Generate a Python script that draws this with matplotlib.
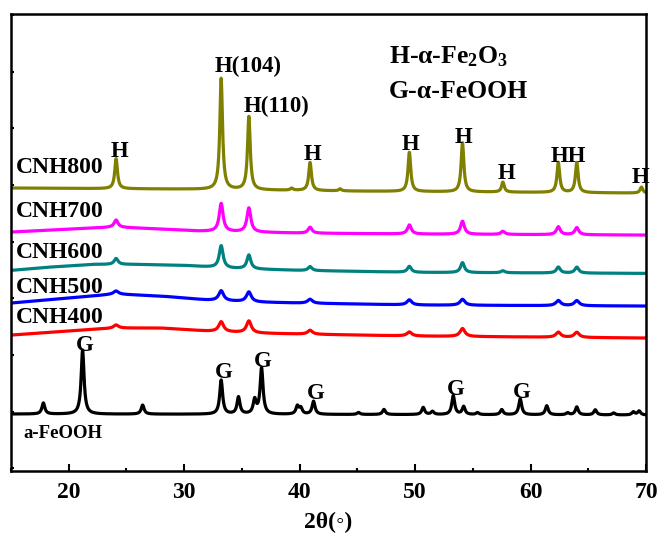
import numpy as np
import matplotlib
matplotlib.use('Agg')
import matplotlib.pyplot as plt
from matplotlib.ticker import MultipleLocator

plt.rcParams['font.family'] = ['Liberation Serif', 'DejaVu Sans']
plt.rcParams['font.weight'] = 'bold'
plt.rcParams['mathtext.fontset'] = 'custom'
plt.rcParams['mathtext.rm'] = 'Liberation Serif:bold'
plt.rcParams['mathtext.it'] = 'Liberation Serif:bold'
plt.rcParams['mathtext.bf'] = 'Liberation Serif:bold'

# sample names and colours (bottom to top in the stack order below)
samples = ['a-FeOOH', 'CNH400', 'CNH500', 'CNH600', 'CNH700', 'CNH800']
colors = ['black', '#ff0000', '#0000ff', '#008080', '#ff00ff', '#808000']

# background: (2theta, counts)
bg_feooh = [(15, 958), (30, 955), (50, 948), (70, 940)]
bg_400 = [(15, 2351), (20, 2422), (24, 2475), (28, 2475), (32, 2422), (36, 2387), (40, 2369), (50, 2334), (70, 2299)]
bg_500 = [(15, 2916), (20, 3004), (24, 3075), (28, 3039), (32, 2969), (36, 2934), (40, 2916), (50, 2881), (70, 2863)]
bg_600 = [(15, 3492), (18, 3545), (22, 3598), (26, 3598), (30, 3580), (34, 3528), (40, 3492), (50, 3457), (70, 3439)]
bg_700 = [(15, 4168), (20, 4221), (24, 4256), (28, 4221), (31, 4186), (40, 4150), (50, 4133), (70, 4115)]
bg_800 = [(15, 4945), (30, 4925), (45, 4890), (70, 4855)]

# peaks: (2theta, height above background)
pk_feooh = [(17.8, 195), (21.2, 1130), (26.4, 160), (33.2, 600), (34.7, 300), (36.1, 245), (36.7, 810),
            (39.8, 140), (40.1, 105), (41.2, 230), (45.1, 35), (47.3, 90), (50.7, 125), (51.5, 55),
            (53.3, 335), (54.2, 140), (55.4, 35), (57.5, 90), (59.1, 280), (61.4, 160), (63.2, 35),
            (64.0, 140), (65.6, 90), (67.2, 35), (68.9, 55), (69.4, 70)]
pk_400 = [(24.1, 55), (33.2, 175), (35.6, 210), (40.9, 70), (49.5, 70), (54.1, 140), (62.4, 90), (64.0, 90)]
pk_500 = [(24.1, 55), (33.2, 175), (35.6, 175), (40.9, 70), (49.5, 90), (54.1, 105), (62.4, 90), (64.0, 90)]
pk_600 = [(24.1, 105), (33.2, 390), (35.6, 245), (40.9, 70), (49.5, 105), (54.1, 175), (57.6, 35),
          (62.4, 105), (64.0, 105)]
pk_700 = [(24.1, 125), (33.2, 495), (35.6, 425), (40.9, 105), (49.5, 160), (54.1, 230), (57.6, 55),
          (62.4, 140), (64.0, 125)]
pk_800 = [(24.1, 530), (33.2, 1960), (35.6, 1290), (39.3, 35), (40.9, 495), (43.5, 35), (49.5, 690),
          (54.1, 865), (57.6, 175), (62.4, 530), (64.0, 530), (69.6, 105)]

backgrounds = [bg_feooh, bg_400, bg_500, bg_600, bg_700, bg_800]
peaks = [pk_feooh, pk_400, pk_500, pk_600, pk_700, pk_800]
fwhm = [0.3, 0.5, 0.5, 0.4, 0.4, 0.28]

two_theta = np.linspace(15, 70, 2751)


def pattern(bg, pk, w):
    bx, by = zip(*bg)
    y = np.interp(two_theta, bx, by)
    g = w / 2.0
    for pos, h in pk:
        y = y + h * g ** 2 / ((two_theta - pos) ** 2 + g ** 2)
    return y


fig = plt.figure(figsize=(6.6, 5.39), dpi=100)
ax = fig.add_axes([0.0167, 0.126, 0.9622, 0.848])

for bg, pk, w, c in zip(backgrounds, peaks, fwhm, colors):
    ax.plot(two_theta, pattern(bg, pk, w), color=c, lw=2.3)

# sample labels
name_pos = [(16.1, 540, 13.5), (15.4, 2558, 17), (15.4, 3098, 17), (15.4, 3709, 17), (15.4, 4438, 17), (15.4, 5209, 17)]
for name, (x, y, fs) in zip(samples, name_pos):
    ax.text(x, y, name, fontsize=fs, fontweight='bold', va='baseline', ha='left')

# phase markers
h_marks = [(24.4, 5497, 'H'), (35.5, 6996, 'H(104)'), (38.0, 6290, 'H(110)'), (41.1, 5438, 'H'),
           (49.6, 5615, 'H'), (54.15, 5744, 'H'), (57.9, 5103, 'H'), (63.3, 5409, 'HH'), (69.55, 5039, 'H')]
g_marks = [(21.4, 2078, 'G'), (33.4, 1587, 'G'), (36.77, 1793, 'G'), (41.4, 1217, 'G'),
           (53.5, 1293, 'G'), (59.2, 1245, 'G')]
for x, y, s in h_marks + g_marks:
    ax.text(x, y, s, fontsize=16.5, fontweight='bold', ha='center', va='baseline', clip_on=False)

ax.text(47.7, 7144, r'H-α-Fe$_2$O$_3$', fontsize=18.5, fontweight='bold', va='baseline')
ax.text(47.7, 6537, 'G-α-FeOOH', fontsize=18.5, fontweight='bold', va='baseline')

ax.set_xlim(15, 70)
ax.set_ylim(-48, 8014)
ax.xaxis.set_major_locator(MultipleLocator(10))
ax.xaxis.set_minor_locator(MultipleLocator(5))
ax.yaxis.set_major_locator(MultipleLocator(1000))
ax.set_yticklabels([])
ax.tick_params(axis='x', which='major', direction='in', length=5, width=1.5, labelsize=17, pad=8)
ax.tick_params(axis='x', which='minor', direction='in', length=2.5, width=1.5)
ax.tick_params(axis='y', which='major', direction='in', length=2, width=1.5, labelleft=False)
for lab in ax.get_xticklabels():
    lab.set_fontweight('bold')
for sp in ax.spines.values():
    sp.set_linewidth(1.8)

ax.set_xlabel('2θ(◦)', fontsize=17, fontweight='bold', labelpad=6)

fig.savefig('out.png', dpi=100)
